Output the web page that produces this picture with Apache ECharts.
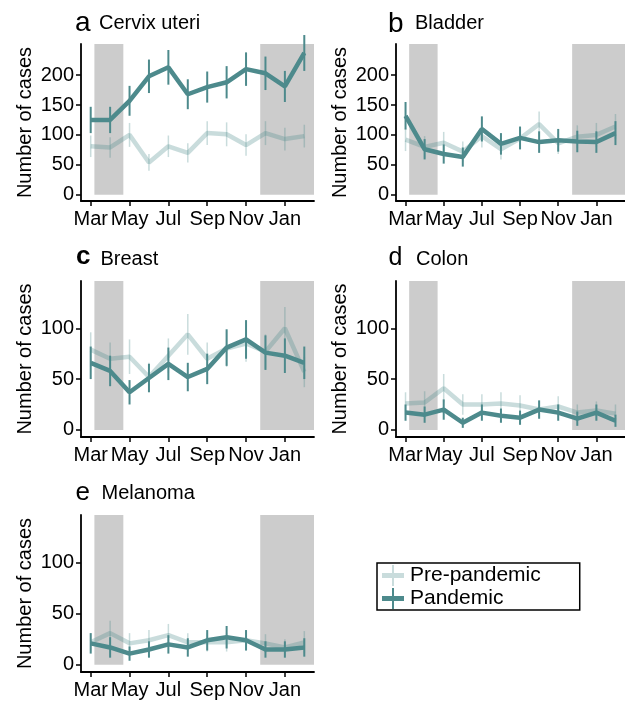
<!DOCTYPE html>
<html>
<head>
<meta charset="utf-8">
<script src="https://cdn.jsdelivr.net/npm/echarts@6/dist/echarts.min.js"></script>
<style>html,body{margin:0;padding:0;background:#fff;}#c{width:625px;height:702px;}</style>
</head>
<body>
<div id="c"></div>
<script>
// ---- data ----
const months = ['Mar','Apr','May','Jun','Jul','Aug','Sep','Oct','Nov','Dec','Jan','Feb'];
const xTickIdx = [0, 2, 4, 6, 8, 10];
const yTicksBig = [0, 50, 100, 150, 200];
const yTicksSmall = [0, 50, 100];
// lockdown shading, in month-index units
const shadeFirst = [0.19, 1.68];
const shadeSecond = [8.73, 11.5];

const cervixPre    = [81, 79, 100, 54, 81, 70, 103, 101, 83, 103, 93, 98];
const cervixPreErr = [18, 17, 20, 14, 18, 16, 20, 20, 18, 20, 19, 19];
const cervixPan    = [125, 125, 157, 198, 213, 168, 180, 188, 210, 203, 181, 237];
const cervixPanErr = [22, 22, 25, 28, 29, 25, 26, 27, 28, 28, 26, 30];

const bladderPre    = [92, 80, 87, 72, 98, 76, 94, 118, 86, 97, 100, 114];
const bladderPreErr = [19, 18, 18, 17, 19, 17, 19, 21, 18, 19, 20, 21];
const bladderPan    = [132, 76, 68, 63, 110, 85, 95, 88, 91, 89, 88, 103];
const bladderPanErr = [23, 17, 16, 16, 21, 18, 19, 18, 19, 18, 18, 20];

const breastPre    = [79, 70, 72, 52, 73, 94, 70, 80, 85, 77, 100, 57];
const breastPreErr = [17, 16, 17, 14, 17, 20, 16, 18, 18, 17, 21, 15];
const breastPan    = [66, 58, 37, 51, 65, 52, 60, 81, 89, 76, 73, 66];
const breastPanErr = [16, 15, 12, 14, 16, 14, 15, 18, 19, 17, 17, 16];

const colonPre    = [26, 27, 41, 25, 25, 26, 24, 20, 23, 17, 19, 16];
const colonPreErr = [11, 11, 14, 10, 10, 11, 10, 9, 10, 8, 9, 9];
const colonPan    = [17, 15, 20, 7, 17, 14, 12, 20, 17, 11, 17, 9];
const colonPanErr = [8, 8, 10, 5, 8, 7, 7, 9, 8, 7, 8, 6];

const melPre    = [22, 31, 21, 24, 29, 22, 22, 22, 24, 21, 17, 22];
const melPreErr = [9, 12, 10, 10, 11, 9, 9, 9, 10, 9, 8, 11];
const melPan    = [21, 17, 11, 15, 20, 17, 24, 27, 24, 15, 15, 17];
const melPanErr = [10, 10, 7, 8, 9, 9, 10, 11, 10, 8, 8, 9];

const panels = [
  {letter:'a', name:'Cervix uteri', pre:cervixPre, preErr:cervixPreErr, pan:cervixPan, panErr:cervixPanErr, ticks:yTicksBig, ymin:-10.5, ymax:252},
  {letter:'b', name:'Bladder', pre:bladderPre, preErr:bladderPreErr, pan:bladderPan, panErr:bladderPanErr, ticks:yTicksBig, ymin:-10.5, ymax:252},
  {letter:'c', name:'Breast', pre:breastPre, preErr:breastPreErr, pan:breastPan, panErr:breastPanErr, ticks:yTicksSmall, ymin:-7, ymax:146.5},
  {letter:'d', name:'Colon', pre:colonPre, preErr:colonPreErr, pan:colonPan, panErr:colonPanErr, ticks:yTicksSmall, ymin:-7, ymax:146.5},
  {letter:'e', name:'Melanoma', pre:melPre, preErr:melPreErr, pan:melPan, panErr:melPanErr, ticks:yTicksSmall, ymin:-7, ymax:146.5}
];

// ---- layout / style ----
const FONT = '"Liberation Sans", Arial, sans-serif';
const DARK = '#4d8a8c';
const LIGHT = 'rgba(77,138,140,0.30)';
const SHADE = '#cccccc';
const grids = [
  {left:81, top:44, width:233, height:157},
  {left:396, top:44, width:233, height:157},
  {left:81, top:281, width:233, height:156},
  {left:396, top:281, width:233, height:156},
  {left:81, top:515, width:233, height:157}
];
const titlePos = [
  {lx:75, ly:23.5, ls:28, lw:'normal', nx:99, ny:23.5},
  {lx:388, ly:24.5, ls:28, lw:'normal', nx:415, ny:23.7},
  {lx:76, ly:257, ls:26, lw:'bold', nx:100.5, ny:259},
  {lx:388.5, ly:258, ls:25, lw:'normal', nx:416, ny:259},
  {lx:75.5, ly:492.5, ls:26, lw:'normal', nx:101.5, ny:493.5}
];

function errRender(color, width) {
  return function(params, api) {
    const p1 = api.coord([api.value(0), api.value(1)]);
    const p2 = api.coord([api.value(0), api.value(2)]);
    return {type:'line', shape:{x1:p1[0], y1:p1[1], x2:p2[0], y2:p2[1]},
            style:{stroke:color, lineWidth:width}};
  };
}

const xAxes = [], yAxes = [], series = [], graphics = [];
panels.forEach((p, i) => {
  xAxes.push({
    type:'value', gridIndex:i, min:-0.5, max:11.5,
    splitLine:{show:false},
    axisLine:{show:true, onZero:false, lineStyle:{color:'#000', width:1.8}},
    axisTick:{show:true, length:5, customValues:xTickIdx, lineStyle:{color:'#000', width:1.5}},
    axisLabel:{customValues:xTickIdx, formatter:v => months[v], color:'#000', fontSize:20, fontFamily:FONT, margin:8}
  });
  yAxes.push({
    type:'value', gridIndex:i, min:p.ymin, max:p.ymax,
    name:'Number of cases', nameLocation:'middle', nameGap:46,
    nameTextStyle:{color:'#000', fontSize:20, fontFamily:FONT},
    splitLine:{show:false},
    axisLine:{show:true, onZero:false, lineStyle:{color:'#000', width:1.8}},
    axisTick:{show:true, length:5, customValues:p.ticks, lineStyle:{color:'#000', width:1.5}},
    axisLabel:{customValues:p.ticks, color:'#000', fontSize:20, fontFamily:FONT, margin:7}
  });
  const preBars = months.map((m, k) => [k, p.pre[k] - p.preErr[k], p.pre[k] + p.preErr[k]]);
  const panBars = months.map((m, k) => [k, p.pan[k] - p.panErr[k], p.pan[k] + p.panErr[k]]);
  series.push({
    type:'line', name:'Pre-pandemic', xAxisIndex:i, yAxisIndex:i, z:2,
    data: months.map((m, k) => [k, p.pre[k]]),
    symbol:'none', lineStyle:{color:LIGHT, width:4.5}, itemStyle:{color:LIGHT},
    markArea:{silent:true, itemStyle:{color:SHADE}, data:[
      [{xAxis:shadeFirst[0], yAxis:0}, {xAxis:shadeFirst[1], yAxis:p.ymax}],
      [{xAxis:shadeSecond[0], yAxis:0}, {xAxis:shadeSecond[1], yAxis:p.ymax}]
    ]}
  });
  series.push({
    type:'custom', name:'preErr', xAxisIndex:i, yAxisIndex:i, z:3,
    renderItem: errRender(LIGHT, 1.5), data: preBars, clip:false
  });
  series.push({
    type:'custom', name:'panErr', xAxisIndex:i, yAxisIndex:i, z:4,
    renderItem: errRender(DARK, 2), data: panBars, clip:false
  });
  series.push({
    type:'line', name:'Pandemic', xAxisIndex:i, yAxisIndex:i, z:5,
    data: months.map((m, k) => [k, p.pan[k]]),
    symbol:'none', lineStyle:{color:DARK, width:4.5}, itemStyle:{color:DARK}
  });
  const t = titlePos[i];
  graphics.push({type:'text', x:t.lx, y:t.ly,
    style:{text:p.letter, font:t.lw + ' ' + t.ls + 'px ' + FONT, fill:'#000', verticalAlign:'middle'}});
  graphics.push({type:'text', x:t.nx, y:t.ny,
    style:{text:p.name, font:'20px ' + FONT, fill:'#000', verticalAlign:'middle'}});
});

const iconPath = 'path://M0,8 L22,8 L22,13 L0,13 Z M10,0 L12,0 L12,21 L10,21 Z';
const option = {
  backgroundColor:'#fff',
  animation:false,
  grid: grids,
  xAxis: xAxes,
  yAxis: yAxes,
  series: series,
  graphic: graphics,
  legend: {
    orient:'vertical', left:377, top:563,
    itemWidth:22, itemHeight:21, itemGap:2,
    padding:[2, 39, 1, 5],
    borderColor:'#000', borderWidth:1.5,
    textStyle:{color:'#000', fontSize:21, fontFamily:FONT, padding:[0,0,0,1]},
    data:[
      {name:'Pre-pandemic', icon:iconPath, itemStyle:{color:LIGHT}},
      {name:'Pandemic', icon:iconPath, itemStyle:{color:DARK}}
    ]
  }
};
const chart = echarts.init(document.getElementById('c'), null, {renderer:'canvas'});
chart.setOption(option);
</script>
</body>
</html>
